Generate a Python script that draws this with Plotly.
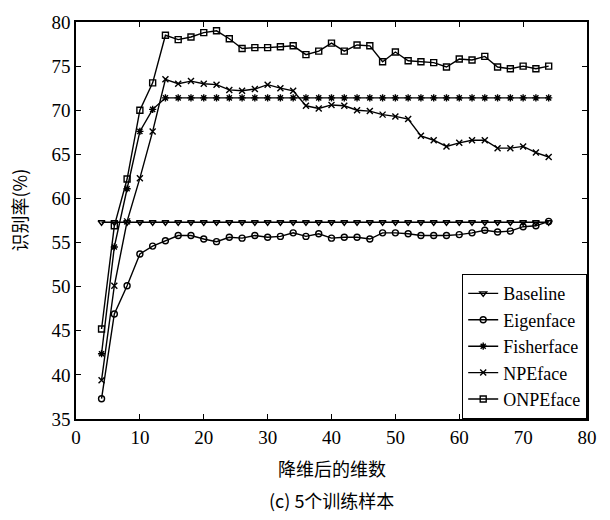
import plotly.graph_objects as go

dims = list(range(4, 75, 2))

baseline = [57.3] * 36
eigenface = [37.3, 46.9, 50.1, 53.7, 54.6, 55.2, 55.8, 55.8, 55.4, 55.1, 55.6, 55.5,
             55.8, 55.6, 55.7, 56.1, 55.7, 56.0, 55.5, 55.6, 55.6, 55.4, 56.1, 56.1,
             56.0, 55.8, 55.8, 55.8, 55.9, 56.1, 56.4, 56.2, 56.3, 56.8, 56.9, 57.4]
fisherface = [42.4, 54.5, 61.1, 67.6, 70.1] + [71.4] * 31
npeface = [39.4, 50.1, 57.4, 62.3, 67.6, 73.5, 73.0, 73.3, 73.0, 72.9, 72.3, 72.2,
           72.4, 72.9, 72.5, 72.2, 70.5, 70.2, 70.6, 70.5, 70.0, 69.9, 69.5, 69.3,
           69.0, 67.1, 66.6, 65.9, 66.3, 66.6, 66.6, 65.7, 65.7, 65.9, 65.2, 64.7]
onpeface = [45.2, 56.9, 62.2, 70.0, 73.1, 78.5, 78.0, 78.3, 78.8, 79.0, 78.1, 77.0,
            77.1, 77.1, 77.2, 77.3, 76.3, 76.7, 77.6, 76.7, 77.4, 77.3, 75.5, 76.6,
            75.6, 75.5, 75.4, 74.9, 75.8, 75.7, 76.1, 74.9, 74.7, 75.0, 74.7, 75.0]

series = [
    ("Baseline", baseline, "triangle-down-open", 6),
    ("Eigenface", eigenface, "circle-open", 6),
    ("Fisherface", fisherface, "asterisk-open", 6),
    ("NPEface", npeface, "x-thin-open", 6),
    ("ONPEface", onpeface, "square-open", 6),
]

fig = go.Figure()
for name, vals, sym, sz in series:
    fig.add_trace(go.Scatter(
        x=dims, y=vals, name=name, mode="lines+markers",
        line=dict(color="black", width=1.4),
        marker=dict(symbol=sym, size=sz, color="black", line=dict(color="black", width=1.4)),
    ))

serif = "Liberation Serif, Times New Roman, serif"
cjk = "Noto Sans CJK SC"

axis_common = dict(
    showline=True, mirror="ticks", linecolor="black", linewidth=1.5,
    ticks="inside", ticklen=5, tickcolor="black", tickwidth=1.2,
    showgrid=False, zeroline=False,
    tickfont=dict(family=serif, size=19, color="black"),
)

fig.update_layout(
    width=610, height=520,
    margin=dict(l=76, r=23, t=18, b=101),
    plot_bgcolor="white", paper_bgcolor="white",
    showlegend=True,
    legend=dict(
        x=1, y=0, xanchor="right", yanchor="bottom",
        bordercolor="black", borderwidth=1.2, bgcolor="white",
        font=dict(family=serif, size=18, color="black"),
        tracegroupgap=0,
    ),
    xaxis=dict(range=[0, 80], tickvals=[0, 10, 20, 30, 40, 50, 60, 70, 80], **axis_common),
    yaxis=dict(range=[35, 80], tickvals=[35, 40, 45, 50, 55, 60, 65, 70, 75, 80], **axis_common),
    annotations=[
        dict(text="降维后的维数", x=0.5, y=0, xref="paper", yref="paper",
             yanchor="middle", yshift=-49, showarrow=False,
             font=dict(family=cjk, size=18, color="black")),
        dict(text="(c) 5个训练样本", x=0.5, y=0, xref="paper", yref="paper",
             yanchor="middle", yshift=-81, showarrow=False,
             font=dict(family=cjk, size=18, color="black")),
        dict(text="识别率(%)", x=0, y=0.5, xref="paper", yref="paper",
             xanchor="center", yanchor="middle", xshift=-58, yshift=10,
             textangle=-90, showarrow=False,
             font=dict(family=cjk, size=18, color="black")),
    ],
)

fig.write_html("out.html")
